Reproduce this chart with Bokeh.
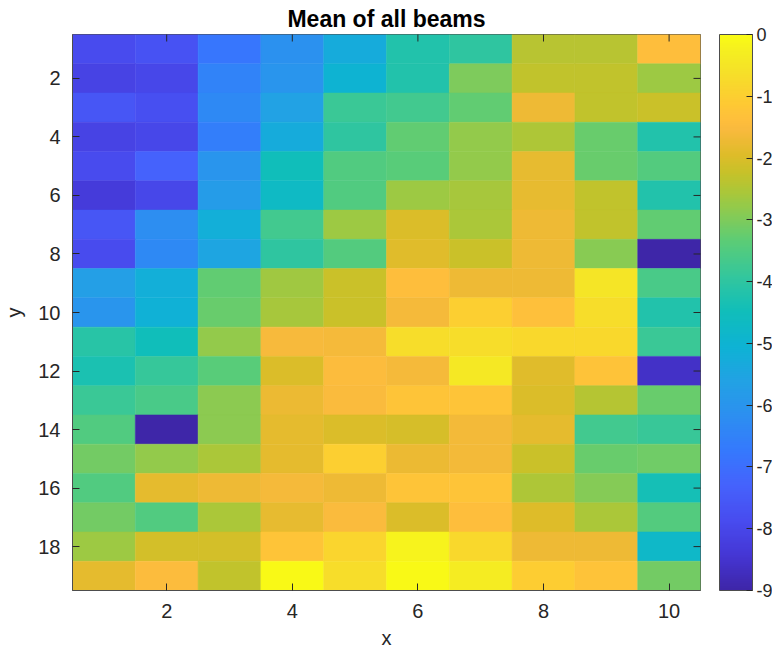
import numpy as np
from bokeh.plotting import figure
from bokeh.models import (LinearColorMapper, ColorBar, FixedTicker, ColumnDataSource,
                          Range1d)
from bokeh.transform import transform
from bokeh.embed import file_html
from bokeh.resources import INLINE

# ---- data (rows y=1..19, columns x=1..10) ----
x_ticks = [2, 4, 6, 8, 10]
y_ticks = [2, 4, 6, 8, 10, 12, 14, 16, 18]
cbar_ticks = [-9, -8, -7, -6, -5, -4, -3, -2, -1, 0]

row01 = [-7.9, -7.7, -6.8, -6.1, -5.3, -4.2, -4.0, -2.4, -2.4, -1.4]
row02 = [-8.1, -8.0, -6.5, -6.0, -5.0, -4.2, -3.0, -2.3, -2.3, -2.7]
row03 = [-7.6, -7.8, -6.3, -5.6, -3.8, -3.7, -3.3, -1.7, -2.3, -2.2]
row04 = [-8.1, -8.0, -6.6, -5.3, -4.0, -3.3, -2.8, -2.5, -3.2, -4.2]
row05 = [-7.9, -7.3, -6.0, -4.5, -3.5, -3.4, -2.8, -1.8, -3.2, -3.45]
row06 = [-8.3, -8.0, -5.8, -4.7, -3.5, -2.7, -2.6, -1.8, -2.3, -4.2]
row07 = [-7.6, -6.2, -5.2, -3.7, -2.7, -2.0, -2.55, -1.7, -2.3, -3.3]
row08 = [-7.9, -6.3, -5.5, -4.0, -3.45, -1.9, -2.2, -1.7, -2.9, -9.0]
row09 = [-5.7, -5.2, -3.3, -2.65, -2.2, -1.4, -1.7, -1.7, -0.5, -3.6]
row10 = [-6.0, -5.1, -3.2, -2.6, -2.2, -1.6, -1.0, -1.35, -0.7, -4.2]
row11 = [-4.1, -4.5, -2.8, -1.55, -1.6, -0.7, -0.7, -0.8, -0.8, -3.8]
row12 = [-4.3, -3.9, -3.4, -2.0, -1.45, -1.6, -0.45, -1.9, -1.3, -8.6]
row13 = [-3.8, -3.6, -2.85, -1.75, -1.5, -1.25, -1.25, -2.0, -2.45, -3.2]
row14 = [-3.5, -9.0, -2.85, -1.85, -2.0, -2.05, -1.65, -1.85, -3.7, -3.85]
row15 = [-3.1, -2.8, -2.55, -1.85, -1.0, -1.75, -1.65, -2.2, -3.2, -3.15]
row16 = [-3.5, -1.85, -1.7, -1.6, -1.7, -1.25, -1.25, -2.5, -2.95, -4.4]
row17 = [-3.1, -3.5, -2.55, -1.8, -1.5, -2.0, -1.4, -1.95, -2.55, -3.45]
row18 = [-2.7, -2.1, -2.1, -1.25, -0.85, -0.2, -0.8, -1.7, -1.7, -4.8]
row19 = [-1.85, -1.45, -2.3, -0.05, -0.7, -0.05, -0.35, -1.05, -1.3, -3.1]

rows = [row01, row02, row03, row04, row05, row06, row07, row08, row09, row10,
        row11, row12, row13, row14, row15, row16, row17, row18, row19]

xs, ys, vals = [], [], []
for j, r in enumerate(rows):
    for i, v in enumerate(r):
        xs.append(i + 1)
        ys.append(j + 1)
        vals.append(v)
source = ColumnDataSource(dict(x=xs, y=ys, v=vals))

# ---- parula colormap (anchor rows of the 256-entry map) ----
anchor_rows = [0, 16, 32, 48, 64, 80, 96, 112, 128, 144, 160, 176, 184, 192, 200,
               208, 212, 216, 224, 232, 240, 248, 255]
anchor_rgb = [
    (0.2422, 0.1504, 0.6603), (0.2704, 0.2138, 0.8346), (0.2813, 0.2985, 0.9397),
    (0.2710, 0.3860, 0.9898), (0.2066, 0.4743, 0.9926), (0.1740, 0.5605, 0.9432),
    (0.1321, 0.6363, 0.8932), (0.0535, 0.7006, 0.8299), (0.0638, 0.7446, 0.7292),
    (0.2003, 0.7787, 0.6146), (0.3548, 0.8016, 0.4669), (0.5748, 0.7929, 0.2941),
    (0.6833, 0.7773, 0.2155), (0.7829, 0.7579, 0.1608), (0.8703, 0.7392, 0.1615),
    (0.9440, 0.7285, 0.2151), (0.9770, 0.7304, 0.2418), (0.9966, 0.7458, 0.2351),
    (0.9949, 0.7915, 0.2012), (0.9778, 0.8404, 0.1757), (0.9608, 0.8902, 0.1532),
    (0.9629, 0.9379, 0.1261), (0.9769, 0.9839, 0.0805),
]
anc = np.array(anchor_rgb)
palette = []
for r in range(256):
    rgb = [np.interp(r, anchor_rows, anc[:, k]) for k in range(3)]
    palette.append("#%02x%02x%02x" % tuple(int(round(c * 255)) for c in rgb))

mapper = LinearColorMapper(palette=palette, low=-9, high=0)

FONT = "Liberation Sans"
TXT = "#262626"
EDGE = "#4d4d4d"
x_lo, x_hi = 0.5, 10.5
y_lo, y_hi = 0.5, 19.5
FW, FH = 628, 556

p = figure(frame_width=FW, frame_height=FH, output_backend="svg", toolbar_location=None,
           x_range=Range1d(x_lo, x_hi), y_range=Range1d(y_hi, y_lo),
           min_border_left=0, min_border_top=0, min_border_right=72, min_border_bottom=0,
           title="Mean of all beams", background_fill_color="white")
p.title.align = "center"
p.title.text_font = FONT
p.title.text_font_size = "23px"
p.title.text_font_style = "bold"
p.title.text_color = "#000000"
p.title.standoff = 6

p.rect(x="x", y="y", width=1, height=1, source=source,
       fill_color=transform("v", mapper), line_color=transform("v", mapper), line_width=0.5)

# inward box ticks on the top and right edges
p.scatter(x=[x_hi] * len(y_ticks), y=y_ticks, marker="dash", size=14,
          line_color=TXT, line_width=1)
p.scatter(x=x_ticks, y=[y_lo] * len(x_ticks), marker="dash", angle=np.pi / 2, size=14,
          line_color=TXT, line_width=1)

p.grid.visible = False
p.outline_line_color = EDGE

for ax in [p.xaxis[0], p.yaxis[0]]:
    ax.major_label_text_font = FONT
    ax.major_label_text_font_size = "20px"
    ax.major_label_text_color = TXT
    ax.axis_label_text_font = FONT
    ax.axis_label_text_font_size = "20px"
    ax.axis_label_text_font_style = "normal"
    ax.axis_label_text_color = TXT
    ax.major_tick_in = 7
    ax.major_tick_out = 0
    ax.minor_tick_line_color = None
    ax.axis_line_color = EDGE
    ax.major_tick_line_color = TXT
p.xaxis[0].ticker = FixedTicker(ticks=x_ticks)
p.yaxis[0].ticker = FixedTicker(ticks=y_ticks)
p.xaxis[0].axis_label = "x"
p.yaxis[0].axis_label = "y"
p.xaxis[0].major_label_standoff = 13
p.xaxis[0].axis_label_standoff = 6
p.yaxis[0].major_label_standoff = 12
p.yaxis[0].axis_label_standoff = 10

cb = ColorBar(color_mapper=mapper, ticker=FixedTicker(ticks=cbar_ticks), width=33, height=FH,
              location=(FW + 19, 0),
              major_label_overrides={t: str(t) for t in cbar_ticks},
              major_label_text_font=FONT, major_label_text_font_size="18px",
              major_label_text_color=TXT, bar_line_color=EDGE,
              major_tick_line_color=TXT, major_tick_in=6, major_tick_out=0,
              minor_tick_line_color=None, label_standoff=4,
              padding=0, margin=0, background_fill_alpha=0, border_line_color=None)
p.add_layout(cb)

open("out.html", "w").write(file_html(p, INLINE))
